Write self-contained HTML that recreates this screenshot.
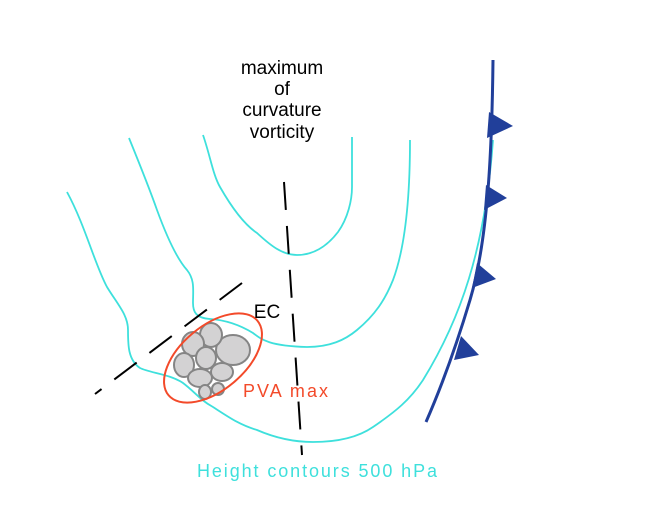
<!DOCTYPE html>
<html><head><style>html,body{margin:0;padding:0;background:#fff;}svg{display:block;}</style></head>
<body>
<svg width="650" height="524" viewBox="0 0 650 524" xmlns="http://www.w3.org/2000/svg">
<g fill="none" stroke="#3ee0dc" stroke-width="1.8">
<path d="M67,192 C85,225 95,265 107,287 C118,305 128,315 128,330 C128,345 128,360 140,368 C150,373 170,374 183,383 C195,392 200,400 213,407 C230,418 240,425 257,430 C280,440 300,442 313,442 C340,442 360,436 373,427 C395,412 410,400 423,380 C460,320 485,250 493,140"/>
<path d="M129,138 C140,165 150,190 157,210 C168,240 178,260 187,270 C195,280 193,290 193,303 C193,312 196,318 210,319 C225,320 240,325 253,333 C262,340 270,346 307,347 C330,347 345,340 357,330 C375,315 385,300 393,280 C408,240 410,180 410,140"/>
<path d="M203,135 C210,155 213,175 220,187 C232,208 245,225 257,233 C270,245 282,255 297,255 C315,255 328,245 338,232 C348,218 352,200 352,187 C352,170 352,150 352,137"/>
</g>
<g stroke="#000" stroke-width="2" fill="none" stroke-dasharray="28,16">
<path d="M284,182 L302,455"/>
<path d="M242,283 L95,394"/>
</g>
<path d="M493,60 C492,150 488,240 470,300 C455,350 440,390 426,422" fill="none" stroke="#213f9a" stroke-width="3"/>
<g fill="#213f9a">
<path d="M489,112 L513,126 L487,138 Z"/>
<path d="M486,185 L507,198 L484,210 Z"/>
<path d="M477,263 L496,279 L472,288 Z"/>
<path d="M461,336 L479,355 L454,360 Z"/>
</g>
<g fill="#d3d2d3" stroke="#858585" stroke-width="2">
<ellipse cx="233" cy="350" rx="17" ry="15"/>
<ellipse cx="211" cy="335" rx="11" ry="12"/>
<ellipse cx="193" cy="344" rx="11" ry="12"/>
<ellipse cx="184" cy="365" rx="10" ry="12"/>
<ellipse cx="206" cy="358" rx="10" ry="11"/>
<ellipse cx="222" cy="372" rx="11" ry="9"/>
<ellipse cx="200" cy="378" rx="12" ry="9"/>
<ellipse cx="205" cy="392" rx="6" ry="7"/>
<ellipse cx="218" cy="389" rx="6" ry="6"/>
</g>
<ellipse cx="213" cy="358" rx="58" ry="32" transform="rotate(-40 213 358)" fill="none" stroke="#f34a2a" stroke-width="2"/>
<g font-family="Liberation Sans, sans-serif" font-size="19" fill="#000" text-anchor="middle">
<text x="282" y="74">maximum</text>
<text x="282" y="95">of</text>
<text x="282" y="116">curvature</text>
<text x="282" y="138">vorticity</text>
<text x="267" y="318">EC</text>
</g>
<text x="243" y="397" font-family="Liberation Sans, sans-serif" font-size="18" fill="#f34a2a" textLength="85">PVA max</text>
<text x="197" y="477" font-family="Liberation Sans, sans-serif" font-size="18" fill="#3ee0dc" textLength="240">Height contours 500 hPa</text>
</svg>
</body></html>
